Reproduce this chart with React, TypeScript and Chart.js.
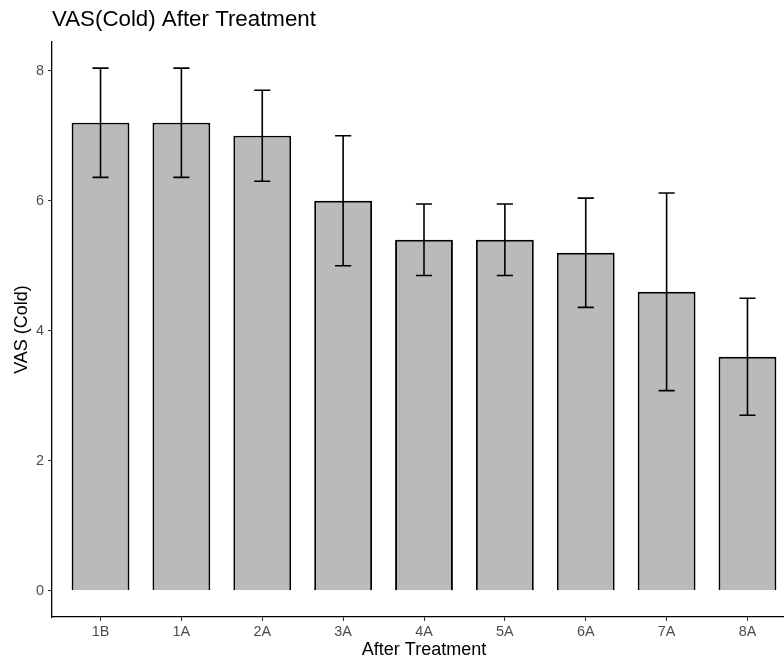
import React, { useEffect, useRef } from "react";
import { Chart, registerables } from "chart.js";

Chart.register(...registerables);

const categories = ["1B", "1A", "2A", "3A", "4A", "5A", "6A", "7A", "8A"];
const means = [7.2, 7.2, 7.0, 6.0, 5.4, 5.4, 5.2, 4.6, 3.6];
const errors = [0.84, 0.84, 0.7, 1.0, 0.55, 0.55, 0.84, 1.52, 0.9];
const yTicks = [0, 2, 4, 6, 8];

const FONT = '"Liberation Sans", Arial, Helvetica, sans-serif';

const errorBarPlugin = {
  id: "errorBars",
  afterDatasetsDraw(chart: any) {
    const { ctx, scales } = chart;
    const xs = scales.x;
    const ys = scales.y;
    ctx.save();
    ctx.strokeStyle = "#000000";
    ctx.lineWidth = 1.6;
    means.forEach((m, i) => {
      const e = errors[i];
      const x = xs.getPixelForValue(i + 1);
      const xl = xs.getPixelForValue(i + 1 - 0.1);
      const xr = xs.getPixelForValue(i + 1 + 0.1);
      const yt = ys.getPixelForValue(m + e);
      const yb = ys.getPixelForValue(m - e);
      ctx.beginPath();
      ctx.moveTo(x, yt);
      ctx.lineTo(x, yb);
      ctx.moveTo(xl, yt);
      ctx.lineTo(xr, yt);
      ctx.moveTo(xl, yb);
      ctx.lineTo(xr, yb);
      ctx.stroke();
    });
    ctx.restore();
  },
};

export default function App() {
  const ref = useRef<HTMLCanvasElement | null>(null);

  useEffect(() => {
    if (!ref.current) return;
    const maxVal = Math.max(...means.map((m, i) => m + errors[i]));
    const pad = maxVal * 0.05;
    const chart = new Chart(ref.current, {
      type: "bar",
      data: {
        datasets: [
          {
            data: means.map((m, i) => ({ x: i + 1, y: m })),
            backgroundColor: "#BABABA",
            borderColor: "#000000",
            borderWidth: 1.9,
            barPercentage: 0.715,
            categoryPercentage: 1,
          },
        ],
      },
      options: {
        animation: false,
        responsive: false,
        devicePixelRatio: 1,
        layout: { padding: 0 },
        font: { family: FONT },
        plugins: {
          legend: { display: false },
          tooltip: { enabled: false },
          title: {
            display: true,
            text: "VAS(Cold) After Treatment",
            align: "start",
            fullSize: false,
            color: "#000000",
            font: { family: FONT, size: 22.3, weight: "normal" },
            padding: { top: 6.5, bottom: 8.7 },
          },
        },
        scales: {
          x: {
            type: "linear",
            offset: false,
            min: 0.4,
            max: categories.length + 0.6,
            afterBuildTicks: (axis: any) => {
              axis.ticks = categories.map((_, i) => ({ value: i + 1 }));
            },
            afterFit: (axis: any) => {
              axis.height = 46;
            },
            ticks: {
              callback: (v: any) => categories[Math.round(Number(v)) - 1] ?? "",
              color: "#4D4D4D",
              font: { family: FONT, size: 14.4 },
              padding: 2,
              maxRotation: 0,
              autoSkip: false,
            },
            grid: {
              offset: false,
              drawOnChartArea: false,
              drawTicks: true,
              tickLength: 4,
              color: "#333333",
              tickWidth: 1.1,
            },
            border: { display: true, color: "#000000", width: 1.3 },
            title: {
              display: true,
              text: "After Treatment",
              color: "#000000",
              font: { family: FONT, size: 18 },
              padding: { top: 0, bottom: 2.2 },
            },
          },
          y: {
            type: "linear",
            min: -pad,
            max: maxVal + pad,
            afterBuildTicks: (axis: any) => {
              axis.ticks = yTicks.map((v) => ({ value: v }));
            },
            afterFit: (axis: any) => {
              axis.width = 52;
            },
            ticks: {
              color: "#4D4D4D",
              font: { family: FONT, size: 14.4 },
              padding: 4,
            },
            grid: {
              drawOnChartArea: false,
              drawTicks: true,
              tickLength: 4,
              color: "#333333",
              tickWidth: 1.1,
            },
            border: { display: true, color: "#000000", width: 1.3 },
            title: {
              display: true,
              text: "VAS (Cold)",
              color: "#000000",
              font: { family: FONT, size: 18 },
              padding: { top: 11, bottom: 0 },
            },
          },
        },
      },
      plugins: [errorBarPlugin],
    } as any);
    return () => chart.destroy();
  }, []);

  return (
    <div
      style={{
        position: "fixed",
        left: 0,
        top: 0,
        width: 784,
        height: 663,
        overflow: "hidden",
        background: "#ffffff",
      }}
    >
      <canvas ref={ref} width={796} height={663} style={{ display: "block" }} />
    </div>
  );
}
